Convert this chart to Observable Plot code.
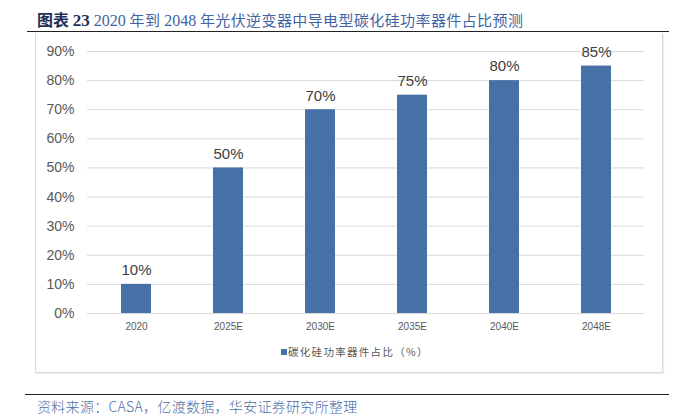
<!DOCTYPE html>
<html>
<head>
<meta charset="utf-8">
<script src="https://cdn.jsdelivr.net/npm/d3@7"></script>
<script src="https://cdn.jsdelivr.net/npm/@observablehq/plot@0.6"></script>
<style>
  html, body { margin: 0; padding: 0; background: #fff; }
  #page { position: relative; width: 691px; height: 417px; overflow: hidden; font-family: "Liberation Sans", Arial, sans-serif; }
  #title { position: absolute; left: 37px; top: 9px; white-space: nowrap; font-size: 15px; line-height: 20px; }
  #title .lab { font-family: "Noto Sans CJK SC", sans-serif; font-weight: bold; color: #1f2f55; font-size: 16px; }
  #title .lab .n { font-family: "Liberation Serif", serif; font-size: 17px; }
  #title .txt { font-family: "Noto Sans CJK SC", sans-serif; color: #3f63a3; letter-spacing: 0.4px; }
  #title .txt .n { font-family: "Liberation Serif", serif; font-size: 16px; letter-spacing: 0; }
  #topline { position: absolute; left: 27px; top: 31px; width: 642px; height: 0; border-top: 1.5px solid #222; }
  #box { position: absolute; left: 35px; top: 33px; width: 626px; height: 339px; border: 1px solid #d9d9d9; border-top: none; box-shadow: 1px 1px 1px #eee; }
  #chart { position: absolute; left: 0; top: 0; }
  #legend { position: absolute; left: 281px; top: 344px; white-space: nowrap; font-family: "Noto Sans CJK SC", sans-serif; font-size: 10.5px; color: #595959; letter-spacing: 1.3px; line-height: 16px; }
  #legend .sw { display: inline-block; width: 6px; height: 6px; background: #4571a7; margin-right: 1px; vertical-align: 1px; }
  #botline { position: absolute; left: 25px; top: 394px; width: 644px; height: 0; border-top: 1.5px solid #222; }
  #footer { position: absolute; left: 37px; top: 397px; white-space: nowrap; font-family: "Noto Sans CJK SC", sans-serif; font-weight: 300; font-size: 14px; color: #4a6ea8; letter-spacing: 0.3px; line-height: 18px; }
</style>
</head>
<body>
<div id="page">
  <div id="title"><span class="lab">图表 <span class="n">23</span></span> <span class="txt"><span class="n">2020</span> 年到 <span class="n">2048</span> 年光伏逆变器中导电型碳化硅功率器件占比预测</span></div>
  <div id="topline"></div>
  <div id="box"></div>
  <div id="chart"></div>
  <div id="legend"><span class="sw"></span>碳化硅功率器件占比（%）</div>
  <div id="botline"></div>
  <div id="footer">资料来源：CASA，亿渡数据，华安证券研究所整理</div>
</div>
<script>
const categories = ["2020", "2025E", "2030E", "2035E", "2040E", "2048E"];
const shares = [10, 50, 70, 75, 80, 85];
const yTicks = [0, 10, 20, 30, 40, 50, 60, 70, 80, 90];

const data = categories.map((c, i) => ({ year: c, share: shares[i] }));

const chart = Plot.plot({
  width: 691,
  height: 340,
  marginLeft: 87,
  marginRight: 47,
  marginTop: 51,
  marginBottom: 27,
  style: { background: "transparent", fontFamily: "Liberation Sans, Arial, sans-serif" },
  x: { domain: categories, paddingInner: 0.677, paddingOuter: 0.3385, label: null },
  y: { domain: [0, 90], label: null },
  marks: [
    Plot.ruleY(yTicks, { stroke: "#d9d9d9", strokeWidth: 1 }),
    Plot.barY(data, { x: "year", y: "share", fill: "#4571a7" }),
    Plot.text(data, { x: "year", y: "share", text: d => d.share + "%", dy: -14, fontSize: 15, fill: "#404040" }),
    Plot.axisY(yTicks, { tickSize: 0, tickPadding: 13, tickFormat: d => d + "%", fontSize: 14, fill: "#595959" }),
    Plot.axisX({ tickSize: 0, tickPadding: 9, fontSize: 10, fill: "#595959" })
  ]
});
document.getElementById("chart").appendChild(chart);
</script>
</body>
</html>
